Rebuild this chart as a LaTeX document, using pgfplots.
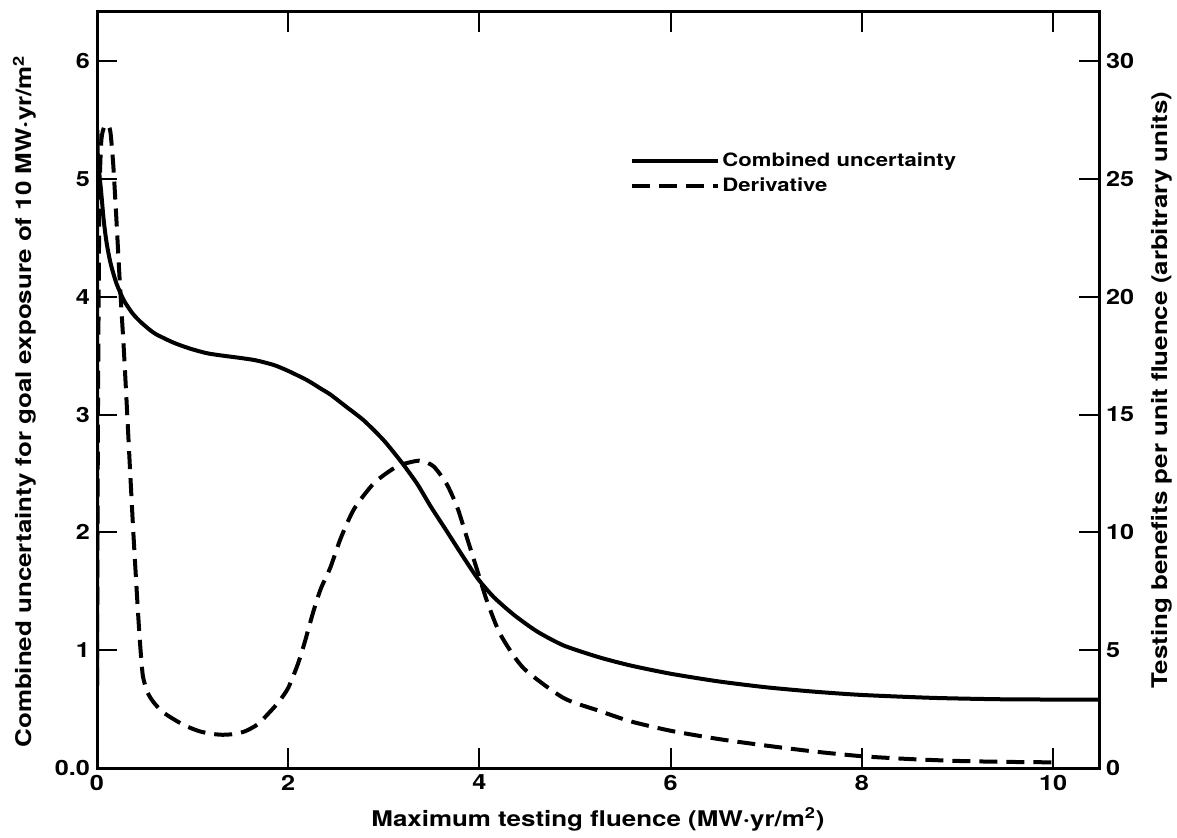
\documentclass[border=0pt]{standalone}
\usepackage{fontspec}
\setmainfont{TeX Gyre Heros}[FakeStretch=1.2]
\usepackage{pgfplots}
\pgfplotsset{compat=1.18}

\pgfplotsset{
  common/.style={
    scale only axis, width=501pt, height=378pt,
    xmin=0, xmax=10.48,
    tick align=inside, major tick length=10pt,
    axis line style={line width=1.5pt},
    every tick/.style={black, line width=1pt},
    tick label style={font=\bfseries\fontsize{10.5}{12.6}\selectfont},
    label style={font=\bfseries\fontsize{10.8}{13}\selectfont},
  },
}

\begin{document}
\begin{tikzpicture}[font=\bfseries\fontsize{10.5}{12.6}\selectfont]
\begin{axis}[common,
  name=ax1,
  ymin=0, ymax=6.416,
  xtick={0,2,4,6,8,10}, xticklabels={0,2,4,6,8,10},
  xtick pos=both,
  ytick={0,1,2,3,4,5,6}, yticklabels={0.0,1,2,3,4,5,6},
  ytick pos=left,
  xlabel={Maximum testing fluence (MW·yr/m\textsuperscript{2})},
  ylabel={Combined uncertainty for goal exposure of 10 MW·yr/m\textsuperscript{2}},
  xlabel style={at={(axis description cs:0.5,-0.068)}, anchor=center},
  ylabel style={at={(axis description cs:-0.072,0.485)}, anchor=center},
]
\addplot[black, line width=2pt, smooth, tension=0.4] coordinates {
(0,0.7) (0.003,5.2) (0.01,5.15) (0.04,4.92) (0.07,4.65) (0.1,4.46) (0.14,4.29)
(0.2,4.12) (0.28,3.97) (0.37,3.86) (0.45,3.79) (0.55,3.72) (0.62,3.68)
(0.8,3.61) (0.97,3.56) (1.15,3.52) (1.31,3.50) (1.5,3.48) (1.66,3.46)
(1.85,3.42) (2.0,3.37) (2.2,3.29) (2.34,3.22) (2.44,3.17) (2.6,3.07)
(2.79,2.95) (3.0,2.78) (3.19,2.59) (3.35,2.41) (3.49,2.22) (3.65,2.02)
(3.8,1.83) (3.98,1.61) (4.15,1.45) (4.36,1.30) (4.6,1.16) (4.88,1.04)
(5.25,0.94) (5.58,0.87) (6.0,0.80) (6.5,0.735) (7.0,0.685) (7.5,0.648)
(8.0,0.62) (8.75,0.595) (9.5,0.583) (10.48,0.58)
};
\end{axis}

\begin{axis}[common,
  ymin=0, ymax=32.08,
  axis y line*=right, axis x line=none,
  ytick={0,5,10,15,20,25,30}, yticklabels={0,5,10,15,20,25,30},
  ylabel={Testing benefits per unit fluence (arbitrary units)},
  ylabel style={at={(axis description cs:1.063,0.5)}, anchor=center, rotate=0},
  legend style={at={(rel axis cs:0.526,0.822)}, anchor=north west, draw=none, fill=none,
    row sep=2pt, nodes={inner sep=1pt}, font=\bfseries\fontsize{9.2}{11.5}\selectfont},
  legend cell align=left,
  legend image code/.code={\draw[#1] (0pt,0pt) -- (43pt,0pt);},
]
\addlegendimage{black, line width=2pt}
\addlegendentry{Combined uncertainty}
\addplot[black, line width=2pt, dash pattern=on 9pt off 4.5pt, smooth, tension=0.4] coordinates {
(0,3.5) (0.01,15) (0.025,24) (0.045,26.6) (0.075,27.2) (0.11,27.3) (0.14,27.0)
(0.17,25.6) (0.2,23.5) (0.24,20.5) (0.28,17.8) (0.31,15.5) (0.345,12.7) (0.38,10)
(0.42,7.2) (0.45,5.3) (0.48,3.9) (0.53,3.2) (0.59,2.8) (0.68,2.4) (0.79,2.1)
(0.92,1.8) (1.07,1.56) (1.2,1.45) (1.31,1.41) (1.43,1.44) (1.55,1.56)
(1.68,1.85) (1.79,2.3) (1.9,2.8) (2.0,3.4) (2.1,4.4) (2.17,5.3) (2.26,6.6)
(2.34,7.6) (2.44,8.5) (2.55,9.76) (2.69,11.0) (2.9,12.1) (3.14,12.8)
(3.37,13.04) (3.52,12.8) (3.66,12.03) (3.77,11.04) (3.87,9.76) (3.98,8.35)
(4.08,7.07) (4.22,5.66) (4.46,4.24) (4.88,2.97) (5.25,2.43) (5.58,1.98)
(6.0,1.58) (6.5,1.23) (7.0,0.95) (7.5,0.7) (8.0,0.5) (8.5,0.38) (9.0,0.3)
(9.5,0.26) (10.0,0.24)
};
\addlegendentry{Derivative}
\end{axis}

\pgfresetboundingbox
\path[use as bounding box] ([xshift=-48.5pt,yshift=-34.5pt]ax1.south west) rectangle ([xshift=39pt,yshift=6pt]ax1.north east);
\end{tikzpicture}
\end{document}
